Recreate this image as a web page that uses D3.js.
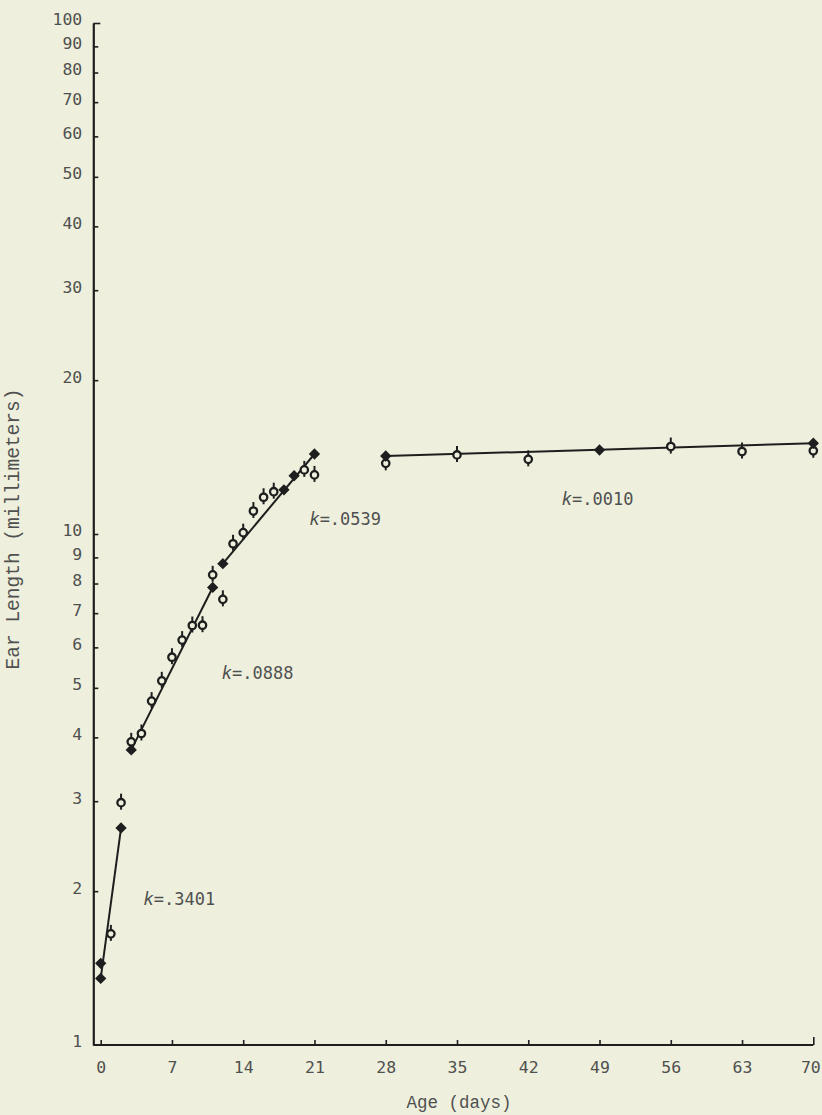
<!DOCTYPE html>
<html>
<head>
  <script src="https://d3js.org/d3.v7.min.js"></script>
  <style>
    body { margin: 0; background: #eef0dd; }
  </style>
</head>
<body>
  <div id="svgcontainer"></div>
  <script>
    // ---- data ----
    // observed means (open circles with bars): day, ear length (mm)
    var obsDays = [1, 2, 3, 4, 5, 6, 7, 8, 9, 10, 11, 12, 13, 14, 15, 16, 17, 20, 21, 28, 35, 42, 56, 63, 70];
    var obsVals = [1.65, 2.98, 3.92, 4.07, 4.71, 5.16, 5.74, 6.2, 6.62, 6.63, 8.32, 7.45, 9.57, 10.06, 11.09, 11.8, 12.1, 13.35, 13.05, 13.75, 14.28, 14.0, 14.83, 14.5, 14.55];

    // solid diamonds
    var solidDays = [0, 0, 2, 3, 11, 12, 18, 19, 21, 28, 49, 70];
    var solidVals = [1.35, 1.445, 2.66, 3.78, 7.86, 8.75, 12.2, 13.0, 14.34, 14.21, 14.6, 15.05];

    // fitted growth segments
    var fitDays = [[0, 2], [3, 11], [12, 21], [28, 70]];
    var fitVals = [[1.35, 2.66], [3.78, 7.86], [8.75, 14.34], [14.21, 15.05]];
    var kLabels = [".3401", ".0888", ".0539", ".0010"];

    var xTicks = [0, 7, 14, 21, 28, 35, 42, 49, 56, 63, 70];
    var yTicks = [1, 2, 3, 4, 5, 6, 7, 8, 9, 10, 20, 30, 40, 50, 60, 70, 80, 90, 100];

    /* svg set up */
    var W = 822, H = 1115;
    var svg = d3.select("#svgcontainer")
      .append("svg")
      .attr("width", W)
      .attr("height", H);

    svg.append("rect").attr("width", W).attr("height", H).attr("fill", "#eef0dd");

    var axisX0 = 93.3; // y axis line position
    var x = d3.scaleLinear().domain([0, 70]).range([100.7, 813.3]);
    var y = d3.scaleLog().domain([1, 100]).range([1045, 23]);

    var ink = "#1e1e1e";
    var textCol = "#505050";
    var tickFont = "'DejaVu Sans Mono', monospace";
    var titleFont = "'Liberation Mono', 'Courier New', monospace";

    // y axis, ticks pointing inward
    var yAxis = svg.append("g")
      .attr("transform", "translate(" + axisX0 + ",0)")
      .call(d3.axisLeft(y).tickValues(yTicks).tickFormat(d3.format("d"))
        .tickSizeInner(-5).tickSizeOuter(0).tickPadding(11));
    yAxis.select(".domain").attr("stroke", ink).attr("stroke-width", 2.2);
    yAxis.selectAll(".tick line").attr("stroke", ink).attr("stroke-width", 1.6);
    yAxis.selectAll(".tick").filter(d => d === 1).select("line").remove();
    yAxis.selectAll(".tick").filter(d => d === 100).select("line").attr("x2", 7);
    yAxis.selectAll("text")
      .attr("font-family", tickFont).attr("font-size", 16.5)
      .attr("fill", textCol).attr("dy", "0.12em");

    // x axis
    var xAxis = svg.append("g")
      .attr("transform", "translate(0," + y(1) + ")")
      .call(d3.axisBottom(x).tickValues(xTicks)
        .tickSizeInner(-5).tickSizeOuter(0).tickPadding(16));
    xAxis.select(".domain")
      .attr("d", "M" + axisX0 + ",0H" + x(70))
      .attr("stroke", ink).attr("stroke-width", 2.2);
    xAxis.selectAll(".tick line").attr("stroke", ink).attr("stroke-width", 1.6);
    xAxis.selectAll(".tick").filter(d => d === 70).select("line").attr("y2", -8);
    xAxis.selectAll("text")
      .attr("font-family", tickFont).attr("font-size", 16.5)
      .attr("fill", textCol);
    // last label sits against the right edge
    xAxis.selectAll(".tick").filter(d => d === 70).select("text")
      .attr("text-anchor", "end").attr("x", 7);

    // axis titles
    svg.append("text")
      .attr("x", 459).attr("y", 1108)
      .attr("text-anchor", "middle")
      .attr("font-family", titleFont).attr("font-size", 17.5)
      .attr("fill", textCol)
      .text("Age (days)");

    svg.append("text")
      .attr("transform", "translate(19,529) rotate(-90)")
      .attr("text-anchor", "middle")
      .attr("font-family", titleFont).attr("font-size", 19.5)
      .attr("fill", textCol)
      .text("Ear Length (millimeters)");

    // fitted lines
    fitDays.forEach(function (dd, i) {
      svg.append("line")
        .attr("x1", x(dd[0])).attr("y1", y(fitVals[i][0]))
        .attr("x2", x(dd[1])).attr("y2", y(fitVals[i][1]))
        .attr("stroke", ink).attr("stroke-width", 2);
    });

    // k labels, anchored in data units
    var kAt = [[4.2, 1.93], [11.9, 5.35], [20.5, 10.7], [45.3, 11.7]];
    kLabels.forEach(function (k, i) {
      var t = svg.append("text")
        .attr("x", x(kAt[i][0])).attr("y", y(kAt[i][1]))
        .attr("dy", "0.35em")
        .attr("font-family", tickFont).attr("font-size", 17)
        .attr("fill", textCol);
      t.append("tspan").attr("font-style", "italic").text("k");
      t.append("tspan").text("=" + k);
    });

    // observed means: open circle with small vertical bar
    var obs = obsDays.map((d, i) => ({ day: d, val: obsVals[i] }));
    svg.selectAll("line.bar")
      .data(obs)
      .enter()
      .append("line")
      .attr("class", "bar")
      .attr("x1", d => x(d.day)).attr("x2", d => x(d.day))
      .attr("y1", d => y(d.val) - 9).attr("y2", d => y(d.val) + 7)
      .attr("stroke", ink).attr("stroke-width", 2);
    svg.selectAll("circle.obs")
      .data(obs)
      .enter()
      .append("circle")
      .attr("class", "obs")
      .attr("cx", d => x(d.day))
      .attr("cy", d => y(d.val))
      .attr("r", 3.7)
      .attr("fill", "#eef0dd")
      .attr("stroke", ink)
      .attr("stroke-width", 2.3);

    // solid diamonds
    var solid = solidDays.map((d, i) => ({ day: d, val: solidVals[i] }));
    var diamond = d3.symbol().type(d3.symbolSquare).size(64);
    svg.selectAll("path.solid")
      .data(solid)
      .enter()
      .append("path")
      .attr("class", "solid")
      .attr("d", diamond)
      .attr("transform", d => "translate(" + x(d.day) + "," + y(d.val) + ") rotate(45)")
      .attr("fill", ink);
  </script>
</body>
</html>
